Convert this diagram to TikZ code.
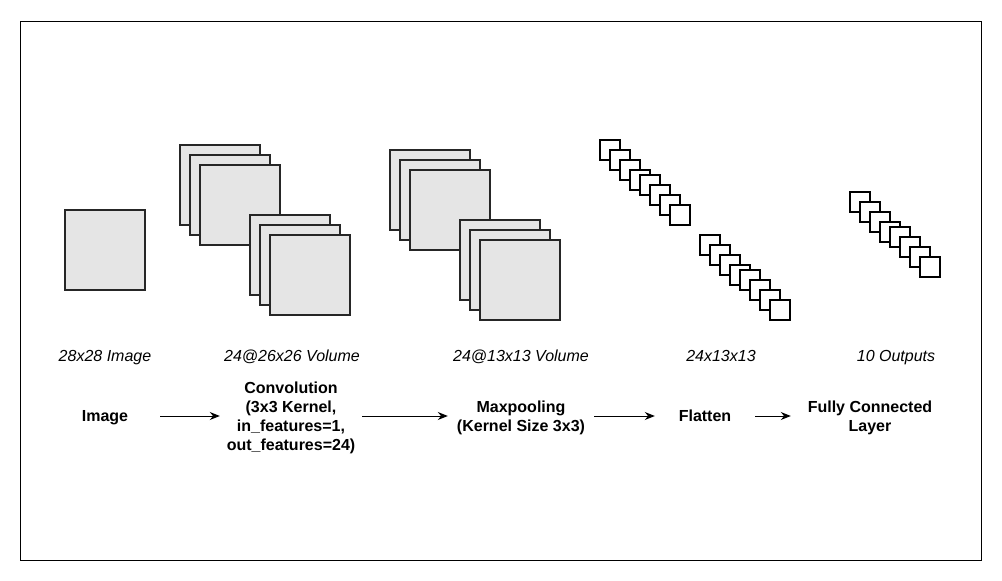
\documentclass[tikz,border=0pt]{standalone}
\usepackage{fontspec}
\setmainfont{Liberation Sans}
\usetikzlibrary{arrows.meta}
\begin{document}
\begin{tikzpicture}[x=1pt,y=-1pt,
  fmap/.style={draw=black!85,line width=2pt,fill=black!10},
  cell/.style={draw=black,line width=1.5pt,fill=white},
  lbl/.style={font=\fontsize{16}{19.2}\selectfont\itshape,inner sep=0pt,text height=11.5pt,text depth=0pt},
  stage/.style={font=\fontsize{16}{19.2}\selectfont\bfseries,align=center,inner sep=0pt,text height=11.5pt,text depth=0pt},
  stagem/.style={font=\fontsize{16}{19.2}\selectfont\bfseries,align=center,inner sep=0pt},
  arr/.style={-{Stealth[length=10pt,width=8pt]},line width=1pt}]
\useasboundingbox (0,0) rectangle (1002,581);
\draw[line width=1pt] (20,21) rectangle (981,560);
% input image
\draw[fmap] (65,210) rectangle ++(80,80);
% conv volume
\foreach \x/\y in {180/145,190/155,200/165,250/215,260/225,270/235}
  \draw[fmap] (\x,\y) rectangle ++(80,80);
% maxpool volume
\foreach \x/\y in {390/150,400/160,410/170,460/220,470/230,480/240}
  \draw[fmap] (\x,\y) rectangle ++(80,80);
% flatten cells
\foreach \i/\d in {0/0,1/10,2/20,3/30,4/35,5/45,6/55,7/65}{
  \draw[cell] ({600+10*\i},{140+\d}) rectangle ++(20,20);}
\foreach \i/\d in {0/0,1/10,2/20,3/30,4/35,5/45,6/55,7/65}{
  \draw[cell] ({700+10*\i},{235+\d}) rectangle ++(20,20);}
% outputs
\foreach \i/\d in {0/0,1/10,2/20,3/30,4/35,5/45,6/55,7/65}{
  \draw[cell] ({850+10*\i},{192+\d}) rectangle ++(20,20);}
% italic labels
\node[lbl] (l1) at (105,356) {28x28 Image};
\node[lbl] (l2) at (292,356) {24@26x26 Volume};
\node[lbl] (l3) at (521,356) {24@13x13 Volume};
\node[lbl] (l4) at (721,356) {24x13x13};
\node[lbl] (l5) at (896,356) {10 Outputs};
% stages
\node[stage,minimum width=110pt] (img) at (105,416) {Image};
\node[stagem,minimum width=142pt] (conv) at (291,418) {Convolution\\(3x3 Kernel,\\in\_features=1,\\out\_features=24)};
\node[stagem,minimum width=146pt] (pool) at (521,418) {Maxpooling\\(Kernel Size 3x3)};
\node[stage,minimum width=100pt] (flat) at (705,416) {Flatten};
\node[stagem,minimum width=158pt] (fc) at (870,418) {Fully Connected\\Layer};
\draw[arr] (img.east) -- (img.east -| conv.west);
\draw[arr] (conv.east |- img.east) -- (pool.west |- img.east);
\draw[arr] (pool.east |- img.east) -- (flat.west);
\draw[arr] (flat.east) -- (flat.east -| fc.west);
\end{tikzpicture}
\end{document}
